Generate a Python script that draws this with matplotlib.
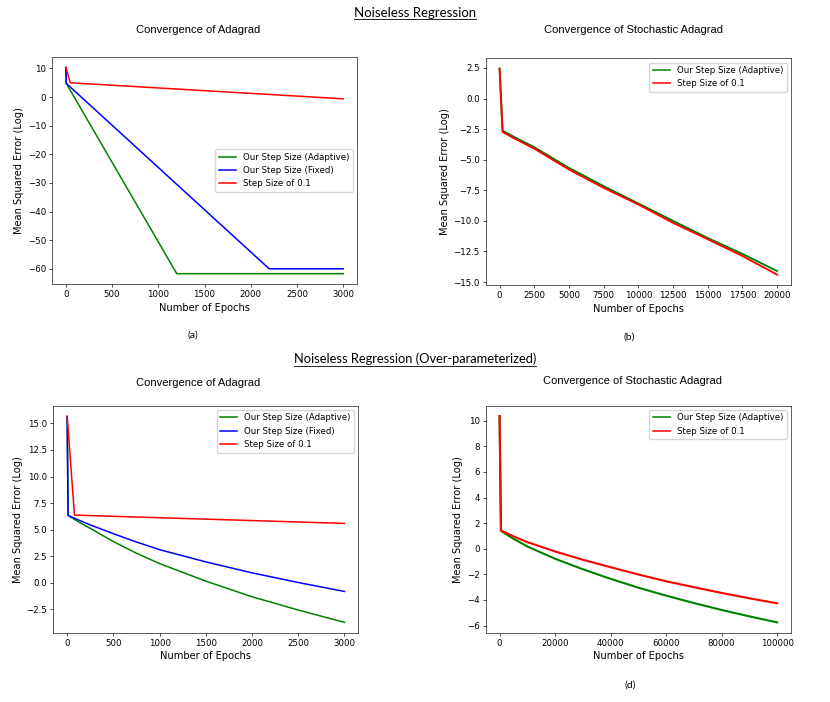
import matplotlib
matplotlib.use("Agg")
import matplotlib.pyplot as plt
from matplotlib.lines import Line2D

W, H = 830, 702

# ---- (a) Noiseless regression, Adagrad
a_ada_x = [0, 4, 1200, 3000]
a_ada_y = [10.3, 4.8, -61.7, -61.7]
a_fix_x = [0, 4, 2200, 3000]
a_fix_y = [10.3, 4.8, -60.0, -60.0]
a_sgd_x = [0, 48, 3000]
a_sgd_y = [10.4, 5.0, -0.6]

# ---- (b) Noiseless regression, stochastic Adagrad
b_x = [0, 216, 1000, 2500, 5000, 7500, 10000, 12500, 15000, 17500, 20000]
b_ada_y = [2.45, -2.62, -3.11, -3.98, -5.67, -7.16, -8.58, -10.0, -11.4, -12.7, -14.1]
b_sgd_y = [2.45, -2.73, -3.22, -4.09, -5.8, -7.3, -8.66, -10.16, -11.5, -12.87, -14.4]

# ---- (c) Over-parameterized, Adagrad
c_x = [0, 10, 125, 250, 500, 750, 1000, 1500, 2000, 2500, 3000]
c_ada_y = [15.6, 6.34, 5.72, 5.12, 3.88, 2.78, 1.81, 0.16, -1.31, -2.56, -3.72]
c_fix_y = [15.6, 6.34, 5.9, 5.45, 4.62, 3.84, 3.12, 1.97, 0.94, 0.03, -0.81]
c_sgd_x = [0, 79, 3000]
c_sgd_y = [15.69, 6.37, 5.59]

# ---- (d) Over-parameterized, stochastic Adagrad
d_x = [0, 500, 5000, 10000, 20000, 30000, 40000, 50000, 60000, 70000, 80000, 90000, 100000]
d_ada_y = [10.37, 1.40, 0.78, 0.18, -0.78, -1.60, -2.35, -3.04, -3.66, -4.24, -4.78, -5.28, -5.75]
d_sgd_y = [10.37, 1.44, 0.97, 0.52, -0.21, -0.86, -1.44, -2.01, -2.54, -3.0, -3.45, -3.87, -4.26]

lbl_ada = "Our Step Size (Adaptive)"
lbl_fix = "Our Step Size (Fixed)"
lbl_sgd = "Step Size of 0.1"

plt.rcParams.update({
    "font.size": 6.2,
    "legend.fontsize": 6.2,
    "axes.labelsize": 7.1,
    "lines.linewidth": 1.1,
    "axes.linewidth": 0.55,
    "axes.edgecolor": "#333333",
    "xtick.major.size": 2.2,
    "ytick.major.size": 2.2,
    "xtick.major.width": 0.5,
    "ytick.major.width": 0.5,
    "xtick.major.pad": 2.2,
    "ytick.major.pad": 2.2,
    "axes.labelpad": 2.5,
})

fig = plt.figure(figsize=(W / 100, H / 100), dpi=100)


def fx(px):
    return px / W


def fy(py):
    return 1 - py / H


def make_axes(l, t, r, b):
    return fig.add_axes([l / W, 1 - b / H, (r - l) / W, (b - t) / H])


def finish(ax, loc):
    ax.set_xlabel("Number of Epochs")
    ax.set_ylabel("Mean Squared Error (Log)")
    leg = ax.legend(loc=loc)
    for h in leg.get_lines():
        h.set_linewidth(1.1)


ax = make_axes(52, 57, 357, 284)
ax.plot(a_ada_x, a_ada_y, color="green", label=lbl_ada)
ax.plot(a_fix_x, a_fix_y, color="blue", label=lbl_fix)
ax.plot(a_sgd_x, a_sgd_y, color="red", label=lbl_sgd)
finish(ax, "center right")

# stochastic runs look a bit heavier because of the jitter
ax = make_axes(485.7, 58.3, 791, 285)
ax.plot(b_x, b_ada_y, color="green", lw=1.35, label=lbl_ada)
ax.plot(b_x, b_sgd_y, color="red", lw=1.35, label=lbl_sgd)
finish(ax, "upper right")

ax = make_axes(53.3, 405.7, 358.3, 632.7)
ax.plot(c_x, c_ada_y, color="green", label=lbl_ada)
ax.plot(c_x, c_fix_y, color="blue", label=lbl_fix)
ax.plot(c_sgd_x, c_sgd_y, color="red", label=lbl_sgd)
finish(ax, "upper right")

ax = make_axes(485.7, 405.7, 791, 632.7)
ax.plot(d_x, d_ada_y, color="green", lw=1.5, label=lbl_ada)
ax.plot(d_x, d_sgd_y, color="red", lw=1.5, label=lbl_sgd)
finish(ax, "upper right")

# titles above each panel (document text, not axes titles)
title_font = dict(family="Liberation Sans", fontsize=8, ha="center", va="center")
fig.text(fx(198), fy(30), "Convergence of Adagrad", **title_font)
fig.text(fx(633), fy(30), "Convergence of Stochastic Adagrad", **title_font)
fig.text(fx(198), fy(383), "Convergence of Adagrad", **title_font)
fig.text(fx(632), fy(381), "Convergence of Stochastic Adagrad", **title_font)

cap_font = dict(family="Lato", fontsize=7.5, ha="center", va="center")
fig.text(fx(193), fy(335), "(a)", **cap_font)
fig.text(fx(629), fy(337), "(b)", **cap_font)
fig.text(fx(630), fy(685), "(d)", **cap_font)


def underlined(x, y, s, size):
    t = fig.text(fx(x), fy(y), s, family="Lato", fontsize=size, ha="center", va="center")
    fig.canvas.draw()
    bb = t.get_window_extent()
    inv = fig.transFigure.inverted()
    (x0, y0), (x1, _) = inv.transform([(bb.x0, bb.y0 - 0.5), (bb.x1, bb.y0)])
    fig.add_artist(Line2D([x0, x1], [y0, y0], transform=fig.transFigure,
                          color="black", lw=0.6))


underlined(415, 13, "Noiseless Regression", 9.5)
underlined(415, 359, "Noiseless Regression (Over-parameterized)", 9.3)

fig.savefig("out.png", dpi=100)
